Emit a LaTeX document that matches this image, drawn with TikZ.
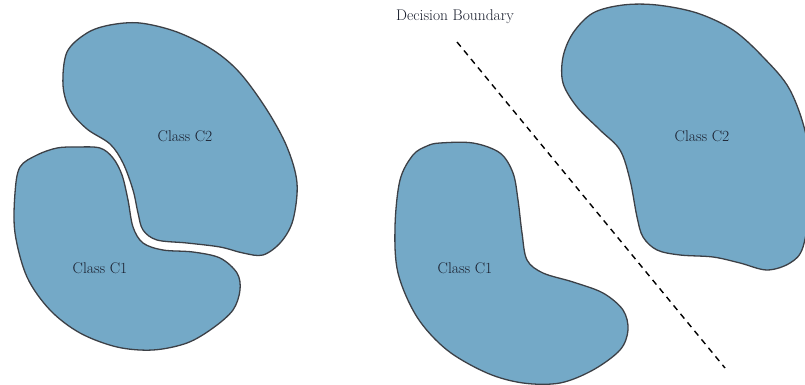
\documentclass[tikz,border=0pt]{standalone}
\usetikzlibrary{calc}
\definecolor{blobfill}{RGB}{116,169,199}
\definecolor{blobline}{RGB}{60,64,70}
\definecolor{txt}{RGB}{25,30,45}
\tikzset{
  blob/.style={fill=blobfill, draw=blobline, line width=1.3pt},
  lbl/.style={text=txt, font=\fontsize{15.5}{18}\selectfont, inner sep=0pt},
  boundary/.style={dash pattern=on 6pt off 5pt, line width=1.4pt, black}
}
\begin{document}
\begin{tikzpicture}[x=1pt,y=-1pt]
\useasboundingbox (0,0) rectangle (805,385);
\clip (0,0) rectangle (805,385);
\fill[white] (0,0) rectangle (805,385);
% left C2
\draw[blob] plot[smooth cycle, tension=0.55] coordinates {
 (63,85) (67,52) (87,33) (110,25) (140,23) (177,32) (213,50) (240,73)
 (267,110) (287,147) (297,183) (293,220) (281,242) (263,255) (243,253)
 (220,247) (187,243) (157,240) (143,230) (138,213) (133,190) (123,163)
 (110,144) (87,129) (70,110)};
% left C1
\draw[blob] plot[smooth cycle, tension=0.55] coordinates {
 (77,147) (100,148) (113,158) (122,175) (128,200) (133,227) (143,243)
 (163,250) (193,252) (220,258) (237,273) (240,290) (233,310) (213,328)
 (187,343) (153,350) (117,347) (80,333) (50,310) (27,277) (15,233)
 (15,193) (20,167) (37,155) (57,148)};
% right C1
\draw[blob] plot[smooth cycle, tension=0.55] coordinates {
 (440,143) (473,143) (500,153) (513,173) (518,200) (522,233) (527,260)
 (543,273) (573,282) (603,293) (623,310) (628,330) (620,350) (593,370)
 (560,383) (523,383) (487,373) (447,350) (417,317) (398,273) (395,227)
 (400,180) (413,155) (427,146)};
% right C2
\draw[blob] plot[smooth cycle, tension=0.55] coordinates {
 (593,13) (573,33) (563,57) (563,83) (577,107) (600,130) (620,150)
 (630,180) (637,217) (643,237) (657,250) (680,255) (713,257) (740,263)
 (767,270) (790,263) (803,247) (810,200) (807,140) (790,90) (763,57)
 (733,30) (697,13) (657,5) (623,5)};
% decision boundary
\coordinate (db1) at (457,42);
\coordinate (db2) at (725,368);
\draw[boundary] (db1) -- (db2);
% labels
\node[lbl] (dbl) at (455,17) {Decision Boundary};
\node[lbl] (lc2) at (185,136) {Class C2};
\node[lbl] (lc1) at (100,268) {Class C1};
\node[lbl] (rc1) at (465,268) {Class C1};
\node[lbl] (rc2) at (702,136) {Class C2};
\end{tikzpicture}
\end{document}
